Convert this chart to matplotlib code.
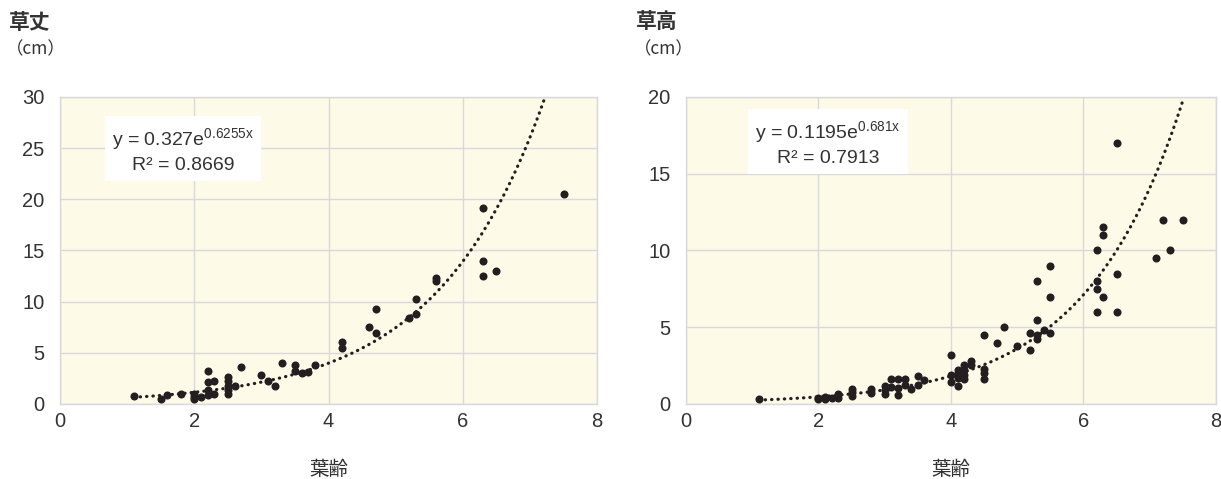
import numpy as np
import matplotlib
matplotlib.use("Agg")
import matplotlib.pyplot as plt

plt.rcParams['font.family'] = ['Liberation Sans', 'Noto Sans CJK JP', 'DejaVu Sans']

# ----------------------------
# dati: 草丈 (sinistra)
# ----------------------------
leaf_age_l = [1.1, 1.5, 1.6, 1.8, 2.0, 2.0, 2.0, 2.1, 2.2, 2.2, 2.2, 2.2,
              2.3, 2.3, 2.5, 2.5, 2.5, 2.5, 2.5, 2.6, 2.7, 3.0, 3.1, 3.2,
              3.3, 3.5, 3.5, 3.6, 3.7, 3.8, 4.2, 4.2, 4.6, 4.7, 4.7, 5.2,
              5.3, 5.3, 5.6, 5.6, 6.3, 6.3, 6.3, 6.5, 7.5]
height_l = [0.75, 0.45, 0.85, 1.0, 1.0, 0.7, 0.45, 0.7, 3.25, 2.1, 1.35, 0.9,
            2.25, 0.95, 2.6, 2.2, 1.8, 1.4, 1.0, 1.75, 3.65, 2.8, 2.25, 1.8,
            4.0, 3.8, 3.25, 3.0, 3.15, 3.8, 6.05, 5.5, 7.5, 9.3, 6.95, 8.4,
            10.3, 8.75, 12.3, 12.0, 19.2, 14.0, 12.55, 12.95, 20.5]

# ----------------------------
# dati: 草高 (destra)
# ----------------------------
leaf_age_r = [1.1, 2.0, 2.0, 2.1, 2.1, 2.2, 2.3, 2.3, 2.5, 2.5, 2.5, 2.8,
              2.8, 3.0, 3.0, 3.0, 3.1, 3.1, 3.2, 3.2, 3.2, 3.3, 3.3, 3.4,
              3.5, 3.5, 3.6, 4.0, 4.0, 4.0, 4.1, 4.1, 4.1, 4.1, 4.2, 4.2,
              4.2, 4.2, 4.3, 4.3, 4.5, 4.5, 4.5, 4.5, 4.7, 4.8, 5.0, 5.2,
              5.2, 5.3, 5.3, 5.3, 5.3, 5.4, 5.5, 5.5, 5.5, 6.2, 6.2, 6.2,
              6.2, 6.3, 6.3, 6.3, 6.5, 6.5, 6.5, 7.1, 7.2, 7.3, 7.5]
height_r = [0.3, 0.3, 0.4, 0.3, 0.45, 0.4, 0.65, 0.4, 1.0, 0.75, 0.5, 0.95,
            0.7, 1.15, 0.9, 0.65, 1.65, 1.1, 1.65, 1.05, 0.6, 1.65, 1.25, 1.0,
            1.8, 1.25, 1.55, 3.2, 1.9, 1.4, 2.2, 2.0, 1.7, 1.2, 2.55, 2.2,
            1.9, 1.6, 2.8, 2.55, 4.5, 2.3, 2.0, 1.65, 4.0, 5.0, 3.75, 4.6,
            3.5, 8.0, 5.5, 4.5, 4.25, 4.8, 9.0, 7.0, 4.6, 10.0, 8.0, 7.5,
            6.0, 11.5, 11.0, 7.0, 17.0, 8.5, 6.0, 9.5, 12.0, 10.0, 12.0]

# coefficienti della curva esponenziale (y = a*e^(b*x))
fit_l = (0.327, 0.6255, "0.327", "0.6255", "0.8669")
fit_r = (0.1195, 0.681, "0.1195", "0.681", "0.7913")

titles = ["草丈", "草高"]
xlabel = "葉齢"
ymax = [30, 20]
yticks = [[0, 5, 10, 15, 20, 25, 30], [0, 5, 10, 15, 20]]
xticks = [0, 2, 4, 6, 8]

BG = "#fdfae8"
GRID = "#d9d9d9"
TXT = "#333333"
DOT = "#231f20"
JP = ['Noto Sans CJK JP', 'DejaVu Sans']

fig = plt.figure(figsize=(12.21, 4.79), dpi=100)
ax_pos = [[0.0491, 0.1566, 0.4400, 0.6409], [0.5618, 0.1566, 0.4340, 0.6409]]
box_pos = [(0.229, 0.826), (0.268, 0.849)]
title_x = [0.007, 0.521]

panels = [(leaf_age_l, height_l, fit_l), (leaf_age_r, height_r, fit_r)]
for i, (xs, ys, fit) in enumerate(panels):
    ax = fig.add_axes(ax_pos[i])
    ax.set_facecolor(BG)
    ax.set_xlim(0, 8)
    ax.set_ylim(0, ymax[i])
    ax.set_xticks(xticks)
    ax.set_yticks(yticks[i])
    ax.grid(True, color=GRID, linewidth=1.0)
    ax.set_axisbelow(True)
    for s in ax.spines.values():
        s.set_color(GRID)
        s.set_linewidth(1.0)
    ax.tick_params(length=0, labelsize=14.5, colors=TXT)
    ax.tick_params(axis="y", pad=11)
    ax.tick_params(axis="x", pad=6)

    # curva di tendenza esponenziale
    a, b = fit[0], fit[1]
    xx = np.linspace(min(xs), max(xs), 300)
    ax.plot(xx, a * np.exp(b * xx), color=DOT, linewidth=2.3,
            linestyle=(0, (0.1, 1.9)), dash_capstyle="round", zorder=2)

    ax.plot(xs, ys, "o", color=DOT, markersize=5.8, markeredgewidth=0, zorder=3)

    ax.set_xlabel(xlabel, fontsize=14, color=TXT, labelpad=20, family=JP)

    eq = "y = " + fit[2] + "e$^{\\mathregular{" + fit[3] + "x}}$\nR² = " + fit[4]
    ax.text(box_pos[i][0], box_pos[i][1], eq, transform=ax.transAxes,
            fontsize=14, color=TXT, ha="center", va="center",
            multialignment="center", linespacing=1.35,
            bbox=dict(facecolor="white", edgecolor="none", pad=5), zorder=4)

    fig.text(title_x[i], 0.953, titles[i], fontsize=15, fontweight="bold",
             color=TXT, ha="left", va="center", family=JP)
    fig.text(title_x[i] - 0.002, 0.898, "（cm）", fontsize=12.5, color=TXT,
             ha="left", va="center", family=JP)

fig.savefig("out.png", dpi=100, facecolor="white")
